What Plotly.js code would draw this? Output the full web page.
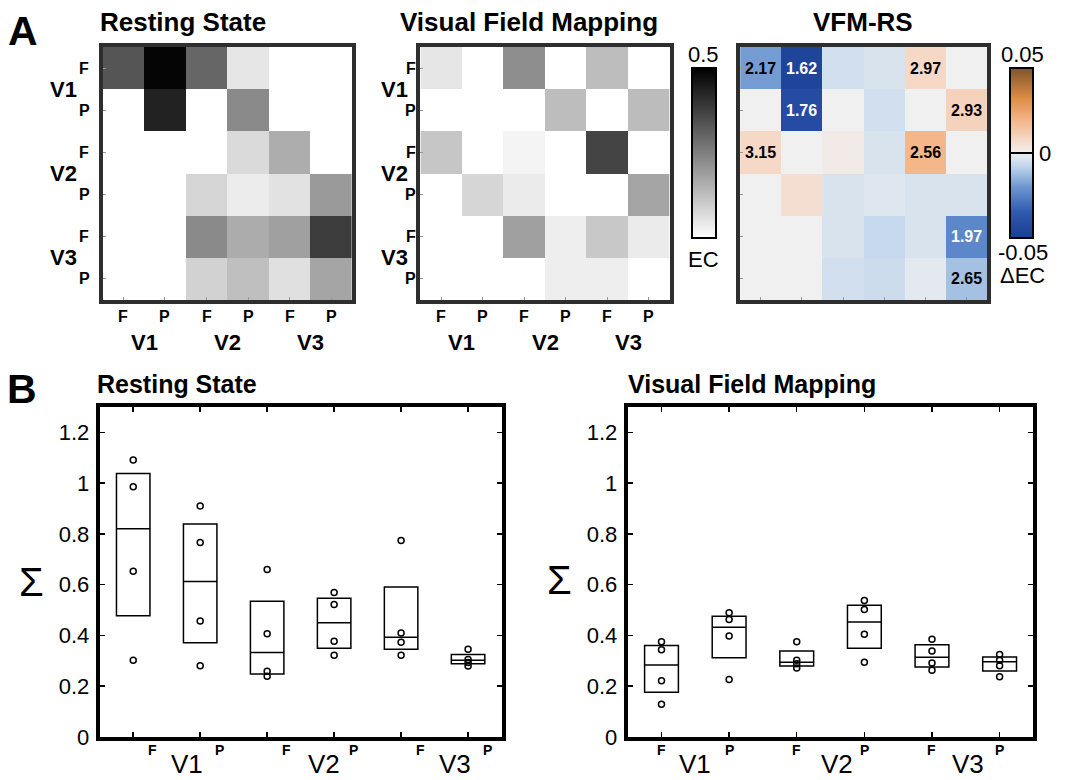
<!DOCTYPE html>
<html><head><meta charset="utf-8">
<script src="https://cdn.plot.ly/plotly-3.0.1.min.js"></script>
<style>html,body{margin:0;padding:0;background:#fff}#chart{width:1076px;height:780px}</style>
</head><body><div id="chart"></div>
<script>
// ---------- data ----------
const areas = ['V1', 'V2', 'V3'];
const fields = ['F', 'P'];
const nodes = ['V1 F', 'V1 P', 'V2 F', 'V2 P', 'V3 F', 'V3 P'];

// effective connectivity, rows = target (top to bottom), cols = source
const ecRest = [
  [0.333, 0.490, 0.300, 0.049, 0.000, 0.000],
  [0.000, 0.433, 0.000, 0.229, 0.000, 0.000],
  [0.000, 0.000, 0.000, 0.073, 0.161, 0.000],
  [0.000, 0.000, 0.082, 0.037, 0.057, 0.198],
  [0.000, 0.000, 0.229, 0.163, 0.186, 0.382],
  [0.000, 0.000, 0.088, 0.125, 0.061, 0.176]
];
const ecVfm = [
  [0.049, 0.000, 0.222, 0.000, 0.129, 0.000],
  [0.000, 0.000, 0.000, 0.129, 0.000, 0.131],
  [0.112, 0.000, 0.022, 0.000, 0.367, 0.000],
  [0.000, 0.080, 0.039, 0.000, 0.000, 0.176],
  [0.000, 0.000, 0.186, 0.033, 0.108, 0.039],
  [0.000, 0.000, 0.000, 0.033, 0.033, 0.000]
];
const ecDiff = [
  [-0.019, -0.046, -0.005, -0.004,  0.008,  0.000],
  [ 0.000, -0.042,  0.000, -0.005,  0.000,  0.010],
  [ 0.008,  0.000,  0.002, -0.004,  0.019,  0.000],
  [ 0.000,  0.006, -0.004, -0.003, -0.004, -0.004],
  [ 0.000,  0.000, -0.004, -0.007, -0.004, -0.024],
  [ 0.000,  0.000, -0.005, -0.006, -0.002, -0.012]
];
const diffLabels = [
  ['2.17', '1.62', '', '', '2.97', ''],
  ['', '1.76', '', '', '', '2.93'],
  ['3.15', '', '', '', '2.56', ''],
  ['', '', '', '', '', ''],
  ['', '', '', '', '', '1.97'],
  ['', '', '', '', '', '2.65']
];

// box summaries (Sigma)
const restQ1  = [0.478, 0.371, 0.248, 0.350, 0.346, 0.289];
const restMed = [0.820, 0.613, 0.333, 0.450, 0.393, 0.302];
const restQ3  = [1.038, 0.839, 0.535, 0.547, 0.591, 0.325];
const restPts = [
  [1.091, 0.986, 0.653, 0.302],
  [0.910, 0.766, 0.457, 0.281],
  [0.660, 0.407, 0.259, 0.239],
  [0.569, 0.522, 0.377, 0.322],
  [0.774, 0.410, 0.373, 0.322],
  [0.346, 0.305, 0.293, 0.280]
];
const vfmQ1  = [0.176, 0.312, 0.280, 0.350, 0.276, 0.260];
const vfmMed = [0.284, 0.432, 0.294, 0.453, 0.314, 0.296];
const vfmQ3  = [0.360, 0.476, 0.339, 0.519, 0.363, 0.315];
const vfmPts = [
  [0.375, 0.344, 0.222, 0.129],
  [0.489, 0.463, 0.398, 0.227],
  [0.375, 0.302, 0.289, 0.272],
  [0.538, 0.502, 0.405, 0.294],
  [0.385, 0.339, 0.292, 0.263],
  [0.325, 0.302, 0.281, 0.237]
];
const sigmaTicks = [0, 0.2, 0.4, 0.6, 0.8, 1, 1.2];

// ---------- layout helpers ----------
const W = 1076, H = 780;
const px = x => x / W;
const py = y => 1 - y / H;
const FONT = 'Liberation Sans, Arial, Helvetica, sans-serif';

function ann(text, x, y, size, bold, extra) {
  return Object.assign({
    text: text, x: px(x), y: py(y), xref: 'paper', yref: 'paper',
    showarrow: false, xanchor: 'center', yanchor: 'middle',
    font: {family: FONT, size: size, color: '#000', weight: bold ? 'bold' : 'normal'}
  }, extra || {});
}

function hmAxis(d0, d1, isY) {
  return {
    domain: isY ? [py(d1), py(d0)] : [px(d0), px(d1)],
    type: 'category',
    range: isY ? [5.5, -0.5] : [-0.5, 5.5],
    showline: true, mirror: true, linewidth: 4, linecolor: '#2e2e2e',
    ticks: 'inside', ticklen: 3, tickwidth: 1, tickcolor: '#999',
    showticklabels: false, showgrid: false, zeroline: false, fixedrange: true
  };
}
function boxX(d0, d1, anchor) {
  return {
    domain: [px(d0), px(d1)], anchor: anchor, type: 'category', range: [-0.5, 5.5],
    showline: true, mirror: 'ticks', linewidth: 4, linecolor: '#000',
    ticks: 'inside', ticklen: 5, tickwidth: 1.5, tickcolor: '#000',
    showticklabels: false, showgrid: false, zeroline: false, fixedrange: true
  };
}
function boxY(anchor) {
  return {
    domain: [py(737), py(407)], anchor: anchor, range: [0, 1.3],
    tickvals: sigmaTicks, ticktext: sigmaTicks.map(v => String(v)),
    showline: true, mirror: 'ticks', linewidth: 4, linecolor: '#000',
    ticks: 'inside', ticklen: 5, tickwidth: 1.5, tickcolor: '#000',
    tickfont: {family: FONT, size: 22, color: '#000'}, ticklabelstandoff: 2,
    showgrid: false, zeroline: false, fixedrange: true
  };
}

// ---------- traces ----------
const traces = [];
traces.push({type: 'heatmap', x: nodes, y: nodes, z: ecRest, xaxis: 'x', yaxis: 'y', coloraxis: 'coloraxis', hoverinfo: 'skip'});
traces.push({type: 'heatmap', x: nodes, y: nodes, z: ecVfm, xaxis: 'x2', yaxis: 'y2', coloraxis: 'coloraxis', hoverinfo: 'skip'});
traces.push({type: 'heatmap', x: nodes, y: nodes, z: ecDiff, xaxis: 'x3', yaxis: 'y3', coloraxis: 'coloraxis2', hoverinfo: 'skip'});

function boxTrace(q1, med, q3, xa, ya) {
  return {type: 'box', x: nodes, q1: q1, median: med, q3: q3, lowerfence: q1, upperfence: q3,
    xaxis: xa, yaxis: ya, width: 0.5, whiskerwidth: 0, boxpoints: false,
    fillcolor: 'rgba(0,0,0,0)', line: {color: '#000', width: 1.5}, hoverinfo: 'skip'};
}
function ptsTrace(pts, xa, ya) {
  const xs = [], ys = [];
  pts.forEach((arr, i) => arr.forEach(v => { xs.push(nodes[i]); ys.push(v); }));
  return {type: 'scatter', mode: 'markers', x: xs, y: ys, xaxis: xa, yaxis: ya,
    marker: {symbol: 'circle-open', size: 6, color: '#000', line: {width: 1.5, color: '#000'}}, hoverinfo: 'skip'};
}
traces.push(boxTrace(restQ1, restMed, restQ3, 'x4', 'y4'));
traces.push(ptsTrace(restPts, 'x4', 'y4'));
traces.push(boxTrace(vfmQ1, vfmMed, vfmQ3, 'x5', 'y5'));
traces.push(ptsTrace(vfmPts, 'x5', 'y5'));

// ---------- annotations ----------
const annotations = [];
annotations.push(ann('A', 24, 31, 41, true));
annotations.push(ann('B', 22, 389, 41, true));
annotations.push(ann('Resting State', 187, 22, 26, true));
annotations.push(ann('Visual Field Mapping', 541, 22, 26, true));
annotations.push(ann('VFM-RS', 883, 22, 26, true));
annotations.push(ann('Resting State', 181, 384, 25, true));
annotations.push(ann('Visual Field Mapping', 769, 384, 25, true));

// heatmap labels
[{xa: 'x', ya: 'y', fpX: 86, vX: 65}, {xa: 'x2', ya: 'y2', fpX: 420, vX: 403}].forEach(h => {
  nodes.forEach((n, i) => {
    annotations.push({text: fields[i % 2], xref: 'paper', x: px(h.fpX), yref: h.ya, y: i,
      showarrow: false, xanchor: 'center', yanchor: 'middle',
      font: {family: FONT, size: 16, weight: 'bold', color: '#000'}});
    annotations.push({text: fields[i % 2], xref: h.xa, x: i, yref: 'paper', y: py(316),
      showarrow: false, xanchor: 'center', yanchor: 'middle',
      font: {family: FONT, size: 16, weight: 'bold', color: '#000'}});
  });
  areas.forEach((a, k) => {
    annotations.push({text: a, xref: 'paper', x: px(h.vX), yref: h.ya, y: 2 * k + 0.5,
      showarrow: false, xanchor: 'center', yanchor: 'middle',
      font: {family: FONT, size: 22, weight: 'bold', color: '#000'}});
    annotations.push({text: a, xref: h.xa, x: 2 * k + 0.5, yref: 'paper', y: py(342),
      showarrow: false, xanchor: 'center', yanchor: 'middle',
      font: {family: FONT, size: 22, weight: 'bold', color: '#000'}});
  });
});

// numbers in difference map
diffLabels.forEach((row, i) => row.forEach((t, j) => {
  if (!t) return;
  annotations.push({text: t, xref: 'x3', yref: 'y3', x: j, y: i, showarrow: false,
    font: {family: FONT, size: 16, weight: 'bold', color: ecDiff[i][j] < -0.021 ? '#fff' : '#000'}});
}));

// colorbar labels
annotations.push(ann('0.5', 720, 55, 22, false));
annotations.push(ann('EC', 720, 260, 22, false));
annotations.push(ann('0.05', 1046, 55, 22, false));
annotations.push(ann('-0.05', 1046, 253, 22, false));
annotations.push(ann('\u0394EC', 1046, 275, 22, false));

// box panel labels
annotations.push(ann('\u03A3', 32, 582, 40, false));
annotations.push(ann('\u03A3', 572, 580, 40, false));
[{xa: 'x4', shift: 19, vpos: [0.8, 2.85, 4.8]}, {xa: 'x5', shift: 0, vpos: [0.5, 2.6, 4.53]}].forEach(b => {
  nodes.forEach((n, i) => {
    annotations.push({text: fields[i % 2], xref: b.xa, x: i, xshift: b.shift, yref: 'paper', y: py(750),
      showarrow: false, xanchor: 'center', yanchor: 'middle',
      font: {family: FONT, size: 14, weight: 'bold', color: '#000'}});
  });
  areas.forEach((a, k) => {
    annotations.push({text: a, xref: b.xa, x: b.vpos[k], yref: 'paper', y: py(780),
      showarrow: false, xanchor: 'center', yanchor: 'bottom', borderpad: 0,
      font: {family: FONT, size: 26, color: '#000'}});
  });
});

const layout = {
  width: W, height: H, margin: {l: 0, r: 0, t: 0, b: 0, pad: 0},
  paper_bgcolor: '#fff', plot_bgcolor: '#fff', showlegend: false,
  font: {family: FONT, color: '#000'},
  xaxis: hmAxis(105, 360, false), yaxis: Object.assign(hmAxis(47, 300, true), {anchor: 'x'}),
  xaxis2: Object.assign(hmAxis(430, 685, false), {anchor: 'y2'}), yaxis2: Object.assign(hmAxis(47, 300, true), {anchor: 'x2'}),
  xaxis3: Object.assign(hmAxis(757, 1010, false), {anchor: 'y3'}), yaxis3: Object.assign(hmAxis(47, 300, true), {anchor: 'x3'}),
  xaxis4: boxX(102, 513, 'y4'), yaxis4: boxY('x4'),
  xaxis5: boxX(642, 1057, 'y5'), yaxis5: boxY('x5'),
  coloraxis: {
    cmin: 0, cmax: 0.5, colorscale: [[0, '#ffffff'], [1, '#000000']],
    colorbar: {x: px(708), xanchor: 'left', y: py(68), yanchor: 'top', len: 170 / H, lenmode: 'fraction',
      thickness: 24, thicknessmode: 'pixels', xpad: 0, ypad: 0, outlinewidth: 2, outlinecolor: '#000',
      showticklabels: false, ticks: ''}
  },
  coloraxis2: {
    cmin: -0.05, cmax: 0.05,
    colorscale: [[0, '#1a3d92'], [0.15, '#2e5ab0'], [0.3, '#6d97d1'], [0.42, '#c0d5ec'], [0.5, '#f0f0f0'],
                 [0.58, '#f5d8c6'], [0.7, '#f3b485'], [0.82, '#de8d44'], [1, '#7e542b']],
    colorbar: {x: px(1033), xanchor: 'left', y: py(68), yanchor: 'top', len: 170 / H, lenmode: 'fraction',
      thickness: 23, thicknessmode: 'pixels', xpad: 0, ypad: 0, outlinewidth: 2, outlinecolor: '#000',
      tickvals: [0], ticktext: ['0'], ticks: 'inside', ticklen: 23, tickwidth: 2, tickcolor: '#000',
      tickfont: {family: FONT, size: 22, color: '#000'}}
  },
  annotations: annotations
};

Plotly.newPlot('chart', traces, layout, {staticPlot: true, displayModeBar: false});
</script>
</body></html>
